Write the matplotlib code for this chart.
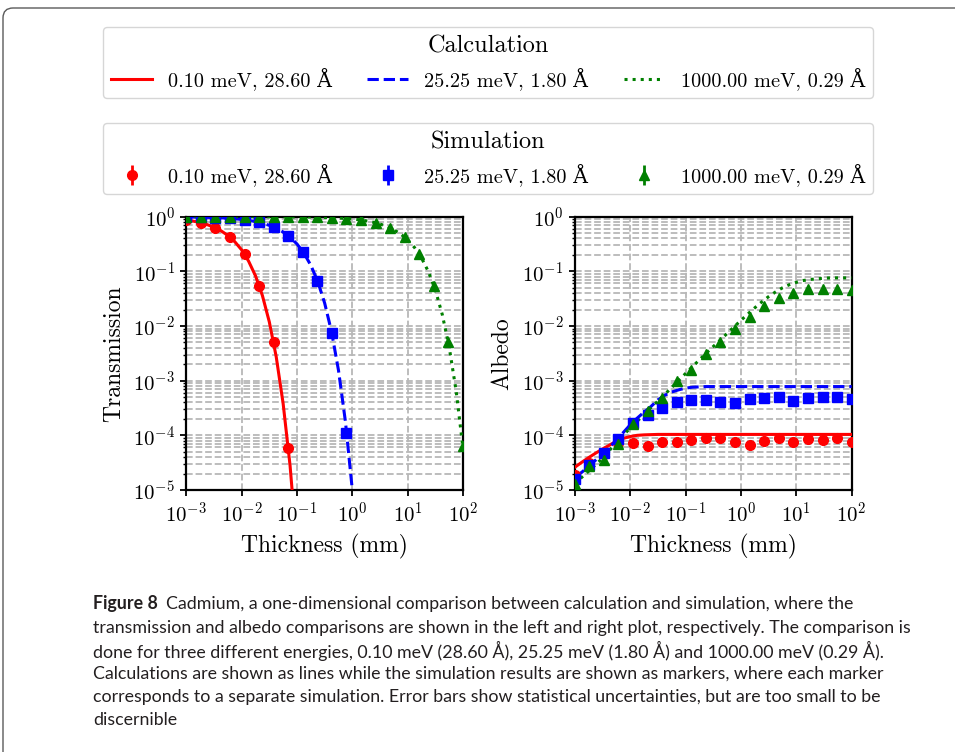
import numpy as np
import matplotlib
matplotlib.use("Agg")
import matplotlib.pyplot as plt
from matplotlib.patches import FancyBboxPatch
from matplotlib.transforms import IdentityTransform
from matplotlib.ticker import LogLocator, NullLocator

nan = float("nan")

# ------------------------------------------------------------------
# Data
# ------------------------------------------------------------------
energy_labels = ["0.10 meV, 28.60 Å", "25.25 meV, 1.80 Å", "1000.00 meV, 0.29 Å"]
colors = ["red", "blue", "green"]
line_styles = ["-", "--", ":"]
markers = ["o", "s", "^"]

# thickness grid of the calculation curves (mm)
calc_thickness = [0.001, 0.001334, 0.001778, 0.002371, 0.003162, 0.004217, 0.005623, 0.007499,
                  0.01, 0.01334, 0.01778, 0.02371, 0.03162, 0.04217, 0.05623, 0.07499,
                  0.1, 0.1334, 0.1778, 0.2371, 0.3162, 0.4217, 0.5623, 0.7499,
                  1.0, 1.334, 1.778, 2.371, 3.162, 4.217, 5.623, 7.499,
                  10.0, 13.34, 17.78, 23.71, 31.62, 42.17, 56.23, 74.99, 100.0]

# thickness of each separate simulation (mm)
sim_thickness = [0.001, 0.001833, 0.00336, 0.006158, 0.01129, 0.02069, 0.03793, 0.06952,
                 0.1274, 0.2336, 0.4281, 0.7848, 1.438, 2.637, 4.833, 8.859,
                 16.24, 29.76, 54.56, 100.0]

trans_calc_red = [0.869, 0.830, 0.780, 0.718, 0.642, 0.554, 0.455, 0.350,
                  0.247, 0.154, 0.0831, 0.0362, 0.0119, 0.00273, 3.8e-4, 2.8e-5,
                  8.3e-7, nan, nan, nan, nan, nan, nan, nan,
                  nan, nan, nan, nan, nan, nan, nan, nan,
                  nan, nan, nan, nan, nan, nan, nan, nan, nan]
trans_calc_blue = [0.989, 0.985, 0.980, 0.973, 0.964, 0.953, 0.937, 0.917,
                   0.891, 0.858, 0.815, 0.761, 0.695, 0.616, 0.524, 0.422,
                   0.317, 0.216, 0.129, 0.0654, 0.0263, 0.00784, 0.00155, 1.8e-4,
                   1.0e-5, 2.2e-7, nan, nan, nan, nan, nan, nan,
                   nan, nan, nan, nan, nan, nan, nan, nan, nan]
trans_calc_green = [1.0, 1.0, 1.0, 1.0, 1.0, 1.0, 0.999, 0.999,
                    0.999, 0.999, 0.998, 0.998, 0.997, 0.996, 0.995, 0.993,
                    0.990, 0.987, 0.983, 0.977, 0.970, 0.960, 0.947, 0.929,
                    0.907, 0.878, 0.841, 0.793, 0.735, 0.663, 0.578, 0.481,
                    0.377, 0.272, 0.176, 0.0988, 0.0457, 0.0163, 0.00413, 6.6e-4, 5.8e-5]

trans_sim_red = [0.87, 0.77, 0.62, 0.42, 0.205, 0.055, 0.0050, 5.8e-5,
                 nan, nan, nan, nan, nan, nan, nan, nan, nan, nan, nan, nan]
trans_sim_blue = [0.99, 0.98, 0.96, 0.93, 0.88, 0.79, 0.65, 0.45,
                  0.23, 0.068, 0.0074, 1.1e-4, nan, nan, nan, nan, nan, nan, nan, nan]
trans_sim_green = [1.0, 1.0, 1.0, 0.999, 0.999, 0.998, 0.996, 0.993,
                   0.988, 0.977, 0.959, 0.926, 0.869, 0.773, 0.624, 0.42,
                   0.206, 0.055, 0.0050, 6.3e-5]

albedo_calc_red = [2.6e-5, 3.2e-5, 3.9e-5, 4.7e-5, 5.6e-5, 6.6e-5, 7.8e-5, 8.8e-5,
                   9.5e-5, 1.0e-4, 1.02e-4, 1.03e-4, 1.04e-4, 1.04e-4, 1.04e-4, 1.04e-4,
                   1.04e-4, 1.04e-4, 1.04e-4, 1.04e-4, 1.04e-4, 1.04e-4, 1.04e-4, 1.04e-4,
                   1.04e-4, 1.04e-4, 1.04e-4, 1.04e-4, 1.04e-4, 1.04e-4, 1.04e-4, 1.04e-4,
                   1.04e-4, 1.04e-4, 1.04e-4, 1.04e-4, 1.04e-4, 1.04e-4, 1.04e-4, 1.04e-4, 1.04e-4]
albedo_calc_blue = [1.75e-5, 2.1e-5, 2.7e-5, 3.5e-5, 4.5e-5, 6.0e-5, 8.1e-5, 1.12e-4,
                    1.55e-4, 2.05e-4, 2.65e-4, 3.35e-4, 4.45e-4, 5.4e-4, 6.2e-4, 6.8e-4,
                    7.3e-4, 7.6e-4, 7.7e-4, 7.8e-4, 7.8e-4, 7.8e-4, 7.8e-4, 7.8e-4,
                    7.8e-4, 7.8e-4, 7.8e-4, 7.8e-4, 7.8e-4, 7.8e-4, 7.8e-4, 7.8e-4,
                    7.8e-4, 7.8e-4, 7.8e-4, 7.8e-4, 7.8e-4, 7.8e-4, 7.8e-4, 7.8e-4, 7.8e-4]
albedo_calc_green = [1.3e-5, 1.7e-5, 2.2e-5, 2.9e-5, 3.8e-5, 5.3e-5, 7.2e-5, 1.0e-4,
                     1.35e-4, 1.8e-4, 2.4e-4, 3.2e-4, 4.2e-4, 5.6e-4, 7.5e-4, 1.0e-3,
                     1.35e-3, 1.8e-3, 2.4e-3, 3.2e-3, 4.2e-3, 5.5e-3, 7.3e-3, 9.6e-3,
                     0.0127, 0.0166, 0.0215, 0.0275, 0.0345, 0.042, 0.050, 0.057,
                     0.063, 0.068, 0.071, 0.073, 0.075, 0.076, 0.076, 0.076, 0.076]

albedo_sim_red = [1.9e-5, 3.1e-5, 4.6e-5, 7.2e-5, 7.2e-5, 6.5e-5, 7.6e-5, 7.7e-5,
                  8.3e-5, 8.8e-5, 8.9e-5, 7.6e-5, 6.6e-5, 7.9e-5, 8.9e-5, 7.4e-5,
                  8.5e-5, 8.3e-5, 8.9e-5, 7.6e-5]
albedo_sim_blue = [1.6e-5, 2.9e-5, 4.8e-5, 8.5e-5, 1.65e-4, 2.35e-4, 3.2e-4, 4.1e-4,
                   4.5e-4, 4.5e-4, 4.1e-4, 3.9e-4, 4.6e-4, 4.8e-4, 5.0e-4, 4.3e-4,
                   4.8e-4, 5.0e-4, 5.1e-4, 4.6e-4]
albedo_sim_green = [1.3e-5, 2.7e-5, 3.5e-5, 6.9e-5, 1.6e-4, 2.8e-4, 4.9e-4, 1.0e-3,
                    1.6e-3, 3.1e-3, 5.2e-3, 8.9e-3, 0.0148, 0.0234, 0.033, 0.041,
                    0.047, 0.047, 0.047, 0.046]

caption_lines = [
    "Cadmium, a one-dimensional comparison between calculation and simulation, where the",
    "transmission and albedo comparisons are shown in the left and right plot, respectively. The comparison is",
    "done for three different energies, 0.10 meV (28.60 Å), 25.25 meV (1.80 Å) and 1000.00 meV (0.29 Å).",
    "Calculations are shown as lines while the simulation results are shown as markers, where each marker",
    "corresponds to a separate simulation. Error bars show statistical uncertainties, but are too small to be",
    "discernible",
]

trans_calc = [trans_calc_red, trans_calc_blue, trans_calc_green]
trans_sim = [trans_sim_red, trans_sim_blue, trans_sim_green]
albedo_calc = [albedo_calc_red, albedo_calc_blue, albedo_calc_green]
albedo_sim = [albedo_sim_red, albedo_sim_blue, albedo_sim_green]

# ------------------------------------------------------------------
# Style
# ------------------------------------------------------------------
plt.rcParams["font.family"] = ["cmr10", "DejaVu Serif"]
plt.rcParams["mathtext.fontset"] = "cm"
plt.rcParams["axes.formatter.use_mathtext"] = True

W, H = 955, 752
fig = plt.figure(figsize=(W / 100, H / 100), dpi=100)


def px_axes(x0, x1, y0, y1):
    return fig.add_axes([x0 / W, 1 - y1 / H, (x1 - x0) / W, (y1 - y0) / H])


ax_t = px_axes(186.3, 463.0, 216.7, 490.0)
ax_a = px_axes(574.7, 851.7, 216.7, 490.0)

calc_handles, sim_handles = [], []
for ax, calc, sim in [(ax_t, trans_calc, trans_sim), (ax_a, albedo_calc, albedo_sim)]:
    for i in range(3):
        ln, = ax.plot(calc_thickness, calc[i], color=colors[i], ls=line_styles[i], lw=2.2, zorder=3)
        eb = ax.errorbar(sim_thickness, sim[i], yerr=np.zeros(len(sim[i])), fmt=markers[i],
                         color=colors[i], ms=7, elinewidth=2, capsize=0, zorder=4)
        if ax is ax_t:
            calc_handles.append(ln)
            sim_handles.append(eb)

    ax.set_xscale("log")
    ax.set_yscale("log")
    ax.set_xlim(1e-3, 1e2)
    ax.set_ylim(1e-5, 1)
    ax.xaxis.set_major_locator(LogLocator(base=10, numticks=10))
    ax.xaxis.set_minor_locator(NullLocator())
    ax.yaxis.set_major_locator(LogLocator(base=10, numticks=10))
    ax.yaxis.set_minor_locator(LogLocator(base=10, subs=np.arange(2, 10), numticks=20))
    ax.grid(True, which="major", axis="x", ls="--", color="0.72", lw=1.3)
    ax.grid(True, which="both", axis="y", ls="--", color="0.72", lw=1.3)
    ax.set_axisbelow(True)
    ax.tick_params(which="major", labelsize=15, length=4.5, width=1.3)
    ax.tick_params(which="minor", length=2.5, width=1.0)
    for s in ax.spines.values():
        s.set_linewidth(1.6)
    ax.set_xlabel("Thickness (mm)", fontsize=17, labelpad=6)

ax_t.set_ylabel("Transmission", fontsize=17, labelpad=6)
ax_a.set_ylabel("Albedo", fontsize=17, labelpad=6)

# ---- Legends ----
leg_kw = dict(ncol=3, loc="upper center", fontsize=14.6, title_fontsize=17.5,
              handlelength=2.0, columnspacing=1.75, borderaxespad=0.0)
leg1 = fig.legend(calc_handles, energy_labels, title="Calculation",
                  bbox_to_anchor=(488 / W, 1 - 27 / H), **leg_kw)
leg2 = fig.legend(sim_handles, energy_labels, title="Simulation",
                  bbox_to_anchor=(488 / W, 1 - 123 / H), **leg_kw)

# ---- Caption ----
cap_font = ["Lato", "DejaVu Sans"]
cap_size = 12.8
cap_color = "#231f20"
cap_y = [604, 627.5, 651, 674, 697, 720]
fig.canvas.draw()
renderer = fig.canvas.get_renderer()
lbl = fig.text(93 / W, 1 - cap_y[0] / H, "Figure 8", fontsize=cap_size, fontweight="bold",
               family=cap_font, color=cap_color, va="center", ha="left")
bb = lbl.get_window_extent(renderer)
fig.text((bb.x1 + 8) / W, 1 - cap_y[0] / H, caption_lines[0], fontsize=cap_size,
         family=cap_font, color=cap_color, va="center", ha="left")
for y, line in zip(cap_y[1:], caption_lines[1:]):
    fig.text(93 / W, 1 - y / H, line, fontsize=cap_size, family=cap_font,
             color=cap_color, va="center", ha="left")

# ---- Frame round the whole figure ----
frame = FancyBboxPatch((3, -30), 1000, H - 8 + 30, boxstyle="round,pad=0,rounding_size=10",
                       transform=IdentityTransform(), fill=False, ec="#5a5a5a", lw=1.0)
fig.add_artist(frame)

fig.savefig("out.png", dpi=100)
